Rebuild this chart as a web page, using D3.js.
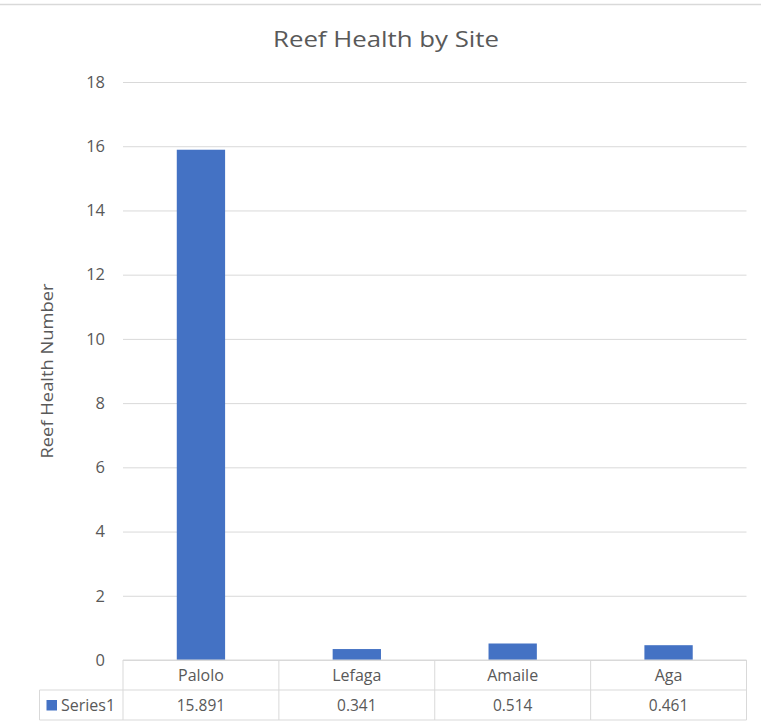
<!DOCTYPE html>
<html>
<head>
<meta charset="utf-8">
<script src="https://cdn.jsdelivr.net/npm/d3@7"></script>
<style>
  html, body { margin: 0; padding: 0; background: #fff; }
  svg { display: block; }
  text { font-family: "Open Sans", "Noto Sans", sans-serif; fill: #595959; }
</style>
</head>
<body>
<svg id="chart" width="761" height="721"></svg>
<script>
// Reef health survey results
const sites = ["Palolo", "Lefaga", "Amaile", "Aga"];
const healthValues = [15.891, 0.341, 0.514, 0.461];
const valueLabels = ["15.891", "0.341", "0.514", "0.461"];
const yTicks = [0, 2, 4, 6, 8, 10, 12, 14, 16, 18];
const seriesName = "Series1";
const chartTitle = "Reef Health by Site";
const yAxisTitle = "Reef Health Number";

const W = 761, H = 721;
const plot = { left: 123, right: 746.5, top: 82, bottom: 660 };
const rowH = 30;
const gridColor = "#d9d9d9";
const barColor = "#4472C4";

const svg = d3.select("#chart");

// chart frame top edge
svg.append("line")
  .attr("x1", 0).attr("x2", W)
  .attr("y1", 4.5).attr("y2", 4.5)
  .attr("stroke", gridColor).attr("stroke-width", 1.5);

const x = d3.scaleBand()
  .domain(sites)
  .range([plot.left, plot.right])
  .paddingInner(0.69)
  .paddingOuter(0.345);

const xCell = d3.scaleBand()
  .domain(sites)
  .range([plot.left, plot.right]);

const y = d3.scaleLinear()
  .domain([0, 18])
  .range([plot.bottom, plot.top]);

// gridlines + tick labels
const yAxis = d3.axisLeft(y)
  .tickValues(yTicks)
  .tickSize(-(plot.right - plot.left))
  .tickPadding(18)
  .tickFormat(d3.format("d"));

const gAxis = svg.append("g")
  .attr("transform", `translate(${plot.left},0)`)
  .call(yAxis);
gAxis.select(".domain").remove();
gAxis.selectAll(".tick line").attr("stroke", gridColor).attr("stroke-width", 1);
gAxis.selectAll(".tick text")
  .attr("font-size", 16.5)
  .attr("fill", "#595959")
  .style("font-family", "'Open Sans', sans-serif");

// bars
svg.append("g").selectAll("rect")
  .data(sites)
  .join("rect")
  .attr("x", d => x(d))
  .attr("width", x.bandwidth())
  .attr("y", (d, i) => y(healthValues[i]))
  .attr("height", (d, i) => y(0) - y(healthValues[i]))
  .attr("fill", barColor);

// title
svg.append("text")
  .attr("x", 386).attr("y", 47)
  .attr("text-anchor", "middle")
  .attr("font-size", 21.5)
  .attr("textLength", 226)
  .attr("lengthAdjust", "spacingAndGlyphs")
  .text(chartTitle);

// y axis title
svg.append("text")
  .attr("transform", `translate(53,${(plot.top + plot.bottom) / 2 + 0}) rotate(-90)`)
  .attr("text-anchor", "middle")
  .attr("font-size", 16)
  .attr("textLength", 175)
  .attr("lengthAdjust", "spacingAndGlyphs")
  .text(yAxisTitle);

// data table
const table = svg.append("g");
const row1Top = plot.bottom, row2Top = plot.bottom + rowH, tableBottom = plot.bottom + 2 * rowH;
const legendLeft = 39.5;

const lines = [
  // horizontal rules
  [plot.left, row1Top, plot.right, row1Top],
  [legendLeft, row2Top, plot.right, row2Top],
  [legendLeft, tableBottom, plot.right, tableBottom],
  // outer verticals
  [legendLeft, row2Top, legendLeft, tableBottom],
  [plot.right, row1Top, plot.right, tableBottom]
];
sites.forEach(s => lines.push([xCell(s), row1Top, xCell(s), tableBottom]));

table.selectAll("line")
  .data(lines)
  .join("line")
  .attr("x1", d => d[0]).attr("y1", d => d[1])
  .attr("x2", d => d[2]).attr("y2", d => d[3])
  .attr("stroke", gridColor).attr("stroke-width", 1);

table.selectAll("text.cat")
  .data(sites)
  .join("text")
  .attr("class", "cat")
  .attr("x", d => xCell(d) + xCell.bandwidth() / 2)
  .attr("y", row1Top + rowH / 2 + 6)
  .attr("text-anchor", "middle")
  .attr("font-size", 16)
  .text(d => d);

table.selectAll("text.val")
  .data(valueLabels)
  .join("text")
  .attr("class", "val")
  .attr("x", (d, i) => xCell(sites[i]) + xCell.bandwidth() / 2)
  .attr("y", row2Top + rowH / 2 + 5.5)
  .attr("text-anchor", "middle")
  .attr("font-size", 15.5)
  .text(d => d);

// legend key inside the table
table.append("rect")
  .attr("x", 46.5).attr("y", row2Top + 10)
  .attr("width", 10.5).attr("height", 10.5)
  .attr("fill", barColor);
table.append("text")
  .attr("x", 61).attr("y", row2Top + rowH / 2 + 5.5)
  .attr("font-size", 16)
  .text(seriesName);
</script>
</body>
</html>
